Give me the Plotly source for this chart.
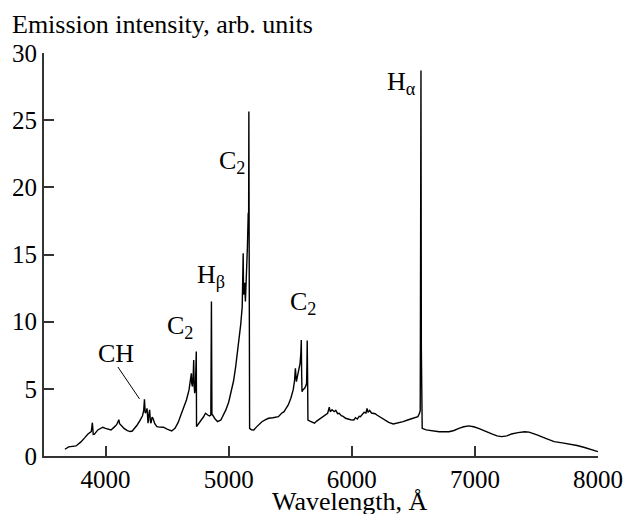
import plotly.graph_objects as go

# Emission spectrum: wavelength (Å) and intensity (arb. units)
wavelength = [
    3670, 3700, 3760, 3800, 3830, 3857, 3884, 3893, 3900, 3910, 3937, 3960, 3977, 4000,
    4044, 4070, 4090, 4108, 4114, 4130, 4150, 4177, 4200, 4217, 4240, 4257, 4280, 4300,
    4310, 4316, 4322, 4330, 4337, 4345, 4352, 4358, 4364, 4369, 4378, 4385, 4400, 4417,
    4440, 4470, 4500, 4537, 4564, 4590, 4617, 4640, 4657, 4678, 4690, 4697, 4700, 4706,
    4712, 4716, 4720, 4724, 4730, 4735, 4737, 4739, 4750, 4765, 4777, 4795, 4812, 4830,
    4844, 4855, 4860, 4864, 4870, 4890, 4910, 4937, 4960, 4977, 5000, 5017, 5040, 5057,
    5070, 5084, 5098, 5110, 5118, 5121, 5126, 5130, 5136, 5145, 5152, 5159, 5162, 5164,
    5166, 5170, 5185, 5204, 5225, 5244, 5270, 5300, 5324, 5360, 5404, 5430, 5450, 5470,
    5484, 5505, 5524, 5535, 5542, 5550, 5564, 5580, 5586, 5590, 5593, 5596, 5606, 5617,
    5626, 5633, 5636, 5638, 5641, 5644, 5660, 5680, 5697, 5715, 5730, 5750, 5770, 5790,
    5804, 5812, 5817, 5825, 5840, 5857, 5870, 5885, 5897, 5915, 5930, 5950, 5970, 5990,
    6017, 6030, 6045, 6060, 6070, 6085, 6100, 6115, 6124, 6132, 6145, 6160, 6177, 6190,
    6204, 6220, 6244, 6270, 6300, 6337, 6370, 6417, 6460, 6510, 6537, 6550, 6556, 6558,
    6562, 6565, 6568, 6572, 6604, 6650, 6710, 6790, 6830, 6870, 6910, 6950, 6990, 7030,
    7080, 7137, 7180, 7217, 7260, 7297, 7350, 7404, 7440, 7480, 7510, 7580, 7644, 7710,
    7777, 7830, 7884, 7940, 8000,
]
intensity = [
    0.50, 0.68, 0.75, 1.05, 1.35, 1.64, 1.81, 2.48, 1.60, 1.62, 1.94, 2.05, 2.14, 2.05,
    1.94, 2.15, 2.33, 2.70, 2.40, 2.25, 2.05, 1.89, 1.82, 1.86, 2.10, 2.31, 2.65, 3.00,
    3.40, 4.22, 3.20, 3.30, 3.55, 2.44, 3.10, 3.43, 2.60, 2.44, 2.90, 2.81, 2.40, 2.18,
    2.15, 2.14, 2.00, 1.86, 2.06, 2.50, 3.18, 3.70, 4.17, 4.92, 5.80, 6.16, 5.40, 5.17,
    6.00, 7.15, 5.20, 4.67, 5.16, 7.30, 7.77, 2.18, 2.30, 2.55, 2.68, 2.90, 3.18, 3.05,
    2.98, 3.05, 11.5, 3.10, 3.05, 2.75, 2.56, 2.68, 3.05, 3.43, 4.00, 4.67, 5.60, 6.65,
    7.60, 8.64, 9.80, 11.1, 15.1, 12.0, 12.6, 12.9, 11.5, 13.5, 15.5, 18.1, 17.0, 25.65,
    2.30, 2.06, 1.95, 1.94, 2.15, 2.31, 2.55, 2.70, 2.81, 2.85, 2.93, 3.18, 3.30, 3.60,
    3.80, 4.30, 4.92, 5.60, 6.53, 5.54, 6.16, 6.90, 7.60, 8.64, 6.00, 4.79, 4.95, 5.04,
    5.20, 5.42, 7.00, 8.59, 6.00, 2.68, 2.60, 2.50, 2.44, 2.60, 2.70, 2.81, 2.95, 3.10,
    3.18, 3.45, 3.63, 3.30, 3.45, 3.30, 3.40, 3.15, 3.18, 3.00, 2.95, 2.81, 2.75, 2.70,
    2.68, 2.85, 2.75, 2.95, 2.93, 3.10, 3.25, 3.20, 3.55, 3.25, 3.40, 3.20, 3.18, 3.15,
    3.05, 2.95, 2.81, 2.65, 2.50, 2.38, 2.45, 2.56, 2.70, 2.88, 2.93, 3.18, 3.40, 11.0,
    28.7, 8.0, 2.30, 2.06, 1.94, 1.88, 1.81, 1.81, 1.90, 2.06, 2.18, 2.24, 2.18, 2.06,
    1.85, 1.64, 1.50, 1.44, 1.50, 1.64, 1.74, 1.81, 1.78, 1.68, 1.56, 1.30, 1.07, 0.98,
    0.89, 0.78, 0.65, 0.50, 0.32,
]

x_ticks = [4000, 5000, 6000, 7000, 8000]
y_ticks = [0, 5, 10, 15, 20, 25, 30]

# Line labels: (text, wavelength, intensity, x-anchor)
line_labels = [
    ("CH", 4088, 7.6, "center"),
    ("C<sub>2</sub>", 4608, 9.6, "center"),
    ("H<sub>β</sub>", 4860, 13.4, "center"),
    ("C<sub>2</sub>", 5150, 21.9, "right"),
    ("C<sub>2</sub>", 5600, 11.4, "center"),
    ("H<sub>α</sub>", 6535, 27.8, "right"),
]

FONT = "Liberation Serif"
AXIS_COLOR = "#333333"

fig = go.Figure(
    go.Scatter(
        x=wavelength,
        y=intensity,
        mode="lines",
        line=dict(color="black", width=1.4),
        hoverinfo="skip",
    )
)

axis_style = dict(
    ticks="inside",
    ticklen=10,
    tickwidth=1.5,
    tickcolor=AXIS_COLOR,
    showline=True,
    linecolor=AXIS_COLOR,
    linewidth=2,
    showgrid=False,
    zeroline=False,
    tickfont=dict(family=FONT, size=25, color="black"),
)
fig.update_xaxes(range=[3500, 8000], tickvals=x_ticks, **axis_style)
fig.update_yaxes(range=[0, 30], tickvals=y_ticks, **axis_style)

for text, wl, val, anchor in line_labels:
    fig.add_annotation(
        x=wl, y=val, xref="x", yref="y", text=text, showarrow=False,
        xanchor=anchor, yanchor="middle",
        font=dict(family=FONT, size=26, color="black"),
    )

# Leader line from the CH label to its band head
fig.add_shape(
    type="line", xref="x", yref="y",
    x0=4100, y0=6.63, x1=4276, y1=4.25,
    line=dict(color="black", width=1),
)

# Axis titles
fig.add_annotation(
    x=-0.061, y=1.0695, xref="paper", yref="paper",
    text="Emission intensity, arb. units", showarrow=False,
    xanchor="left", yanchor="middle",
    font=dict(family=FONT, size=26, color="black"),
)
fig.add_annotation(
    x=0.553, y=-0.113, xref="paper", yref="paper",
    text="Wavelength, Å", showarrow=False,
    xanchor="center", yanchor="middle",
    font=dict(family=FONT, size=26, color="black"),
)

fig.update_layout(
    width=635,
    height=514,
    margin=dict(l=42, r=30, t=53, b=58),
    plot_bgcolor="white",
    paper_bgcolor="white",
    showlegend=False,
    font=dict(family=FONT, size=24, color="black"),
)

fig.write_html("out.html")
